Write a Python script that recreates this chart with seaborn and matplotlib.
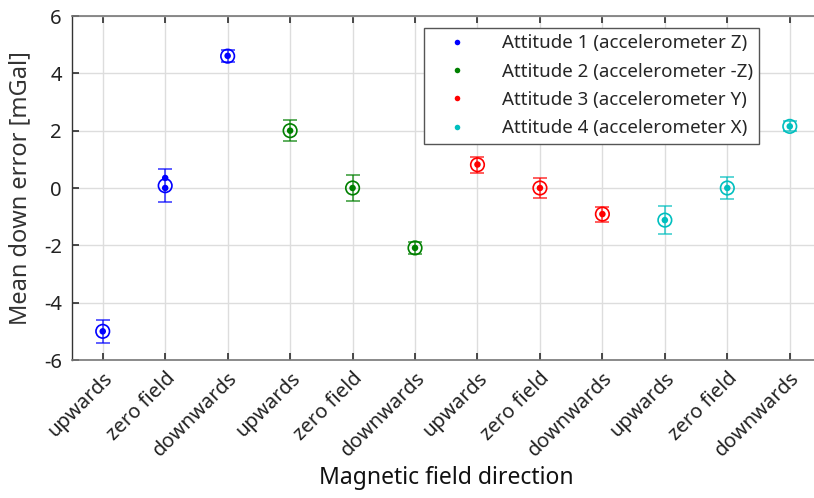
import numpy as np
import pandas as pd
import matplotlib
matplotlib.use("Agg")
import matplotlib.pyplot as plt
from matplotlib.lines import Line2D
import seaborn as sns

# ---- data ----
tick_labels = ["upwards", "zero field", "downwards"] * 4
attitudes = ["Attitude 1 (accelerometer Z)", "Attitude 2 (accelerometer -Z)",
             "Attitude 3 (accelerometer Y)", "Attitude 4 (accelerometer X)"]
group = [attitudes[0]] * 3 + [attitudes[1]] * 3 + [attitudes[2]] * 3 + [attitudes[3]] * 3
means = [-5.0, 0.08, 4.60, 2.0, 0.0, -2.09, 0.81, 0.0, -0.91, -1.12, 0.0, 2.15]
errs = [0.40, 0.57, 0.22, 0.36, 0.47, 0.22, 0.28, 0.34, 0.26, 0.50, 0.37, 0.17]
# individual filled dots (index of condition, value)
dot_idx = [0, 1, 1, 2, 3, 4, 5, 6, 7, 8, 9, 10, 11]
dot_val = [-5.0, 0.35, 0.0, 4.61, 2.0, 0.0, -2.09, 0.82, 0.0, -0.91, -1.12, 0.0, 2.15]
colors = ["#0000ff", "#008000", "#ff0000", "#00bfbf"]

# ---- build frames ----
xpos = np.arange(1, len(tick_labels) + 1)
df = pd.DataFrame({"x": xpos, "mean": means, "err": errs, "group": group})
dots = pd.DataFrame({"x": xpos[dot_idx], "val": dot_val,
                     "group": [group[i] for i in dot_idx]})
palette = dict(zip(attitudes, colors))

sns.set_theme(style="white")
plt.rcParams["font.family"] = ["Noto Sans", "DejaVu Sans"]

fig = plt.figure(figsize=(8.14, 4.98), dpi=100)
ax = fig.add_axes([71.5 / 814, 1 - 360 / 498, (821 - 71.5) / 814, 344 / 498])

for g, sub in df.groupby("group", sort=False):
    c = palette[g]
    ax.errorbar(sub["x"], sub["mean"], yerr=sub["err"], fmt="none",
                ecolor=c, elinewidth=1.1, capsize=4.7, capthick=1.1, alpha=0.8, zorder=3)

sns.scatterplot(data=df, x="x", y="mean", hue="group", palette=palette,
                marker="o", s=95, linewidth=1.2, legend=False, ax=ax, zorder=4)
coll = ax.collections[-1]
coll.set_edgecolors([palette[g] for g in df["group"]])
coll.set_facecolors("none")

sns.scatterplot(data=dots, x="x", y="val", hue="group", palette=palette,
                marker="o", s=22, linewidth=0, legend=False, ax=ax, zorder=5)

ax.set_xlim(0.5, 12.5)
ax.set_ylim(-6, 6)
ax.set_xticks(xpos)
ax.set_xticklabels(tick_labels, rotation=45, ha="right", rotation_mode="anchor",
                   fontsize=14.5, color="#222222")
ax.set_yticks(np.arange(-6, 7, 2))
ax.set_yticklabels([str(v) for v in range(-6, 7, 2)], fontsize=14.5, color="#222222")
ax.tick_params(axis="x", which="both", direction="in", length=5, top=True,
               bottom=True, color="#333333", pad=6)
ax.tick_params(axis="y", which="both", direction="in", length=5, left=True,
               color="#333333", pad=7)
ax.grid(True, color="#dddddd", linewidth=1)
ax.set_axisbelow(True)
for s in ["top", "bottom"]:
    ax.spines[s].set_color("#777777")
    ax.spines[s].set_linewidth(1.2)
ax.spines["left"].set_color("#333333")
ax.spines["left"].set_linewidth(1.0)
ax.spines["right"].set_visible(False)

ax.set_xlabel("Magnetic field direction", fontsize=16.5, color="#111111", labelpad=4)
ax.set_ylabel("Mean down error [mGal]", fontsize=17, color="#333333", labelpad=8)

handles = [Line2D([0], [0], marker="o", linestyle="none", markersize=4,
                  markerfacecolor=palette[a], markeredgewidth=0) for a in attitudes]
leg = ax.legend(handles, attitudes, loc="upper left", bbox_to_anchor=(0.470, 0.966),
                borderaxespad=0, fancybox=False, framealpha=1, edgecolor="#555555",
                fontsize=13.5, handlelength=2.8, handletextpad=1.0, labelspacing=0.55,
                borderpad=0.35)
leg.get_frame().set_linewidth(1.0)

fig.savefig("out.png", dpi=100)
